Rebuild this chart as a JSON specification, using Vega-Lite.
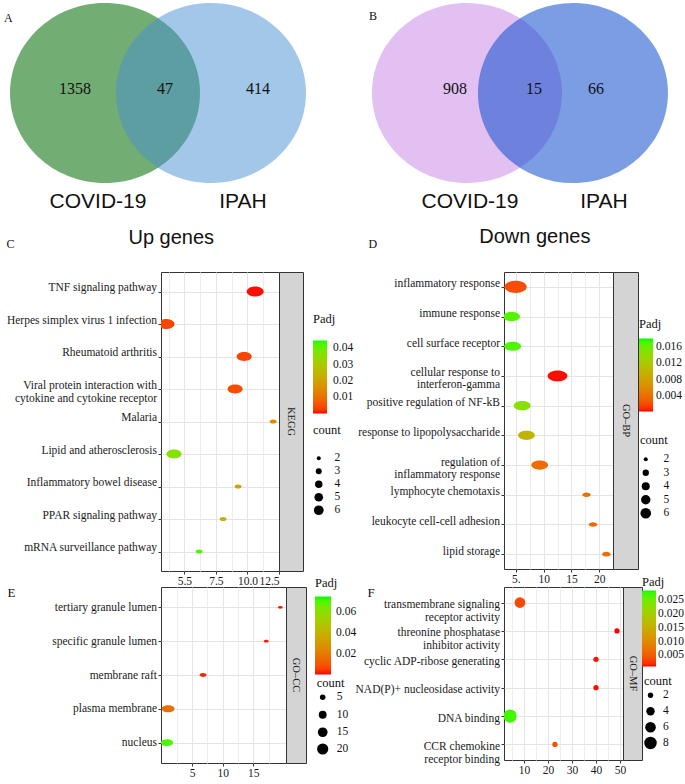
{
"$schema": "https://vega.github.io/schema/vega-lite/v6.json",
"background": "white",
"padding": {"left": 4, "top": 0, "right": 0, "bottom": 0},
"columns": 1,
"align": "none",
"spacing": -12,
"config": {
 "font": "Liberation Serif",
 "view": {"stroke": "#333333", "strokeWidth": 1},
 "axis": {"labelFont": "Liberation Serif", "labelFontSize": 11.5, "labelColor": "#1a1a1a", "tickColor": "#333333", "tickSize": 3, "labelPadding": 1.5, "domain": false, "gridColor": "#e4e4e4", "gridWidth": 1, "titleFont": "Liberation Serif", "titleFontWeight": "normal", "titleColor": "#111111"},
 "legend": {"titleFont": "Liberation Serif", "titleFontSize": 12.5, "titleFontWeight": "normal", "titleColor": "#111111", "labelFont": "Liberation Serif", "labelFontSize": 11.5, "labelColor": "#111111", "gradientStrokeWidth": 0, "symbolStrokeWidth": 0},
 "title": {"font": "Liberation Sans", "fontWeight": "normal", "color": "#111111"}
},
"resolve": {"scale": {"x": "independent", "y": "independent", "color": "independent", "size": "independent", "opacity": "independent"}},
"concat": [
 {
  "hconcat": [
   {
    "width": 173, "height": 238,
    "view": {"stroke": null},
    "title": {"text": "A", "anchor": "start", "frame": "group", "font": "Liberation Serif", "fontSize": 12, "fontWeight": "normal", "offset": 0, "baseline": "bottom", "dx": -157, "dy": 37},
    "layer": [
     {
      "data": {"values": [{"set": "COVID-19", "cx": -0.57, "cy": 0}, {"set": "IPAH", "cx": 0.57, "cy": 0}]},
      "mark": {"type": "point", "filled": true, "shape": "M-1.0556,0A1.0556,1 0 1,1 1.0556,0A1.0556,1 0 1,1 -1.0556,0Z", "size": 32400, "strokeWidth": 0},
      "encoding": {
       "x": {"field": "cx", "type": "quantitative", "scale": {"domain": [0.0323, 1.893], "nice": false, "zero": false}, "axis": null},
       "y": {"field": "cy", "type": "quantitative", "scale": {"domain": [-1.56, 1.0], "nice": false, "zero": false}, "axis": null},
       "color": {"field": "set", "type": "nominal", "scale": {"domain": ["COVID-19", "IPAH"], "range": ["#72ad74", "#478fd1"]}, "legend": null},
       "opacity": {"field": "set", "type": "nominal", "scale": {"domain": ["COVID-19", "IPAH"], "range": [1, 0.5]}, "legend": null}
      }
     },
     {
      "data": {"values": [{"label": "1358", "tx": -0.892, "ty": 0.043}, {"label": "47", "tx": 0.076, "ty": 0.043}, {"label": "414", "tx": 1.076, "ty": 0.043}]},
      "mark": {"type": "text", "font": "Liberation Serif", "fontSize": 16, "color": "#111111"},
      "encoding": {
       "x": {"field": "tx", "type": "quantitative", "scale": {"domain": [0.0323, 1.893], "nice": false, "zero": false}, "axis": null},
       "y": {"field": "ty", "type": "quantitative", "scale": {"domain": [-1.56, 1.0], "nice": false, "zero": false}, "axis": null},
       "text": {"field": "label"}
      }
     },
     {
      "data": {"values": [{"label": "COVID-19", "tx": -0.645, "ty": -1.172}, {"label": "IPAH", "tx": 0.914, "ty": -1.172}]},
      "mark": {"type": "text", "font": "Liberation Sans", "fontSize": 21, "color": "#111111"},
      "encoding": {
       "x": {"field": "tx", "type": "quantitative", "scale": {"domain": [0.0323, 1.893], "nice": false, "zero": false}, "axis": null},
       "y": {"field": "ty", "type": "quantitative", "scale": {"domain": [-1.56, 1.0], "nice": false, "zero": false}, "axis": null},
       "text": {"field": "label"}
      }
     }
    ]
   },
   {
    "width": 340, "height": 238,
    "view": {"stroke": null},
    "title": {"text": "B", "anchor": "start", "frame": "group", "font": "Liberation Serif", "fontSize": 12, "fontWeight": "normal", "offset": 0, "baseline": "bottom", "dx": 27, "dy": 35},
    "layer": [
     {
      "data": {"values": [{"set": "COVID-19", "cx": -0.57, "cy": 0}, {"set": "IPAH", "cx": 0.57, "cy": 0}]},
      "mark": {"type": "point", "filled": true, "shape": "M-1.0556,0A1.0556,1 0 1,1 1.0556,0A1.0556,1 0 1,1 -1.0556,0Z", "size": 32400, "strokeWidth": 0},
      "encoding": {
       "x": {"field": "cx", "type": "quantitative", "scale": {"domain": [-1.914, 1.743], "nice": false, "zero": false}, "axis": null},
       "y": {"field": "cy", "type": "quantitative", "scale": {"domain": [-1.56, 1.0], "nice": false, "zero": false}, "axis": null},
       "color": {"field": "set", "type": "nominal", "scale": {"domain": ["COVID-19", "IPAH"], "range": ["#e2c0f2", "#0d4dcc"]}, "legend": null},
       "opacity": {"field": "set", "type": "nominal", "scale": {"domain": ["COVID-19", "IPAH"], "range": [1, 0.55]}, "legend": null}
      }
     },
     {
      "data": {"values": [{"label": "908", "tx": -0.699, "ty": 0.043}, {"label": "15", "tx": 0.151, "ty": 0.043}, {"label": "66", "tx": 0.818, "ty": 0.043}]},
      "mark": {"type": "text", "font": "Liberation Serif", "fontSize": 16, "color": "#111111"},
      "encoding": {
       "x": {"field": "tx", "type": "quantitative", "scale": {"domain": [-1.914, 1.743], "nice": false, "zero": false}, "axis": null},
       "y": {"field": "ty", "type": "quantitative", "scale": {"domain": [-1.56, 1.0], "nice": false, "zero": false}, "axis": null},
       "text": {"field": "label"}
      }
     },
     {
      "data": {"values": [{"label": "COVID-19", "tx": -0.537, "ty": -1.172}, {"label": "IPAH", "tx": 0.904, "ty": -1.172}]},
      "mark": {"type": "text", "font": "Liberation Sans", "fontSize": 21, "color": "#111111"},
      "encoding": {
       "x": {"field": "tx", "type": "quantitative", "scale": {"domain": [-1.914, 1.743], "nice": false, "zero": false}, "axis": null},
       "y": {"field": "ty", "type": "quantitative", "scale": {"domain": [-1.56, 1.0], "nice": false, "zero": false}, "axis": null},
       "text": {"field": "label"}
      }
     }
    ]
   }
  ],
  "spacing": 8,
  "resolve": {"scale": {"x": "independent", "y": "independent", "color": "independent", "opacity": "independent"}}
 },
 {
  "hconcat": [
   {
    "hconcat": [
     {
      "width": 118, "height": 299,
      "title": {"text": "Up  genes", "anchor": "middle", "frame": "bounds", "dx": 28.5, "offset": -31, "baseline": "bottom", "font": "Liberation Sans", "fontSize": 20, "fontWeight": "normal"},
      "data": {"values": [
       {"term": "TNF signaling pathway", "ratio": 10.61, "padj": 0.0005, "count": 6},
       {"term": "Herpes simplex virus 1 infection", "ratio": 3.55, "padj": 0.004, "count": 6},
       {"term": "Rheumatoid arthritis", "ratio": 9.74, "padj": 0.004, "count": 5},
       {"term": "Viral protein interaction with\ncytokine and cytokine receptor", "ratio": 9.02, "padj": 0.005, "count": 5},
       {"term": "Malaria", "ratio": 12.04, "padj": 0.0135, "count": 2},
       {"term": "Lipid and atherosclerosis", "ratio": 4.18, "padj": 0.036, "count": 5},
       {"term": "Inflammatory bowel disease", "ratio": 9.26, "padj": 0.02, "count": 2},
       {"term": "PPAR signaling pathway", "ratio": 8.07, "padj": 0.0245, "count": 2},
       {"term": "mRNA surveillance pathway", "ratio": 6.17, "padj": 0.042, "count": 2}
      ]},
      "layer": [
       {
        "mark": {"type": "point", "filled": true, "opacity": 1, "clip": true, "strokeWidth": 0, "shape": "M-1.74,0A1.74,1.03 0 1,1 1.74,0A1.74,1.03 0 1,1 -1.74,0Z"},
        "encoding": {
         "x": {"field": "ratio", "type": "quantitative", "scale": {"domain": [3.15, 12.5], "nice": false, "zero": false}, "axis": {"orient": "bottom", "values": [5, 7.5, 10, 12.5], "labelExpr": "datum.value == 5 ? '5.5' : format(datum.value, '.1f')", "title": null, "grid": true, "minExtent": 0}},
         "y": {"field": "term", "type": "nominal", "sort": null, "scale": {"padding": 0.6}, "axis": {"title": "C", "titleAngle": 0, "titleAlign": "left", "titleBaseline": "middle", "titleX": -155, "titleY": -29, "titleFontSize": 12, "labelExpr": "split(datum.label, '\\n')", "labelLineHeight": 13, "labelOffset": -4, "grid": true}},
         "color": {"field": "padj", "type": "quantitative", "scale": {"domain": [0.0002, 0.0446], "range": ["#ff0000", "#00ff00"], "interpolate": "lab"}, "legend": {"title": "Padj", "orient": "none", "legendX": 152, "legendY": 41, "direction": "vertical", "values": [0.01, 0.02, 0.03, 0.04], "format": ".2f", "gradientLength": 73, "gradientThickness": 14, "titlePadding": 15, "labelOffset": 6}},
         "size": {"field": "count", "type": "quantitative", "scale": {"domain": [2, 6], "range": [16, 95], "zero": false}, "legend": {"title": "count", "orient": "none", "legendX": 152, "legendY": 152, "direction": "vertical", "values": [2, 3, 4, 5, 6], "symbolType": "circle", "symbolFillColor": "#000000", "symbolOpacity": 1, "titlePadding": 16, "labelOffset": 10, "rowPadding": 0}}
        }
       },
       {
        "mark": {"type": "point", "opacity": 0},
        "encoding": {
         "x": {"field": "ratio", "type": "quantitative", "scale": {"domain": [3.15, 12.5], "nice": false, "zero": false}, "axis": {"orient": "top", "values": [3.75, 6.25, 8.75, 11.25], "labels": false, "ticks": false, "domain": false, "grid": true, "gridColor": "#ececec", "title": null, "minExtent": 0, "maxExtent": 0}}
        }
       }
      ]
     },
     {
      "width": 24, "height": 299,
      "view": {"fill": "#d4d4d4", "stroke": "#333333"},
      "data": {"values": [{"db": "KEGG"}]},
      "mark": {"type": "text", "angle": 90, "font": "Liberation Serif", "fontSize": 10.5, "color": "#1a1a1a", "align": "center", "baseline": "middle"},
      "encoding": {"text": {"field": "db"}}
     }
    ],
    "spacing": 0,
    "bounds": "flush",
    "resolve": {"scale": {"color": "shared", "size": "shared", "x": "independent", "y": "independent"}, "legend": {"color": "shared", "size": "shared"}}
   },
   {
    "hconcat": [
     {
      "width": 109, "height": 297,
      "title": {"text": "Down genes", "anchor": "middle", "frame": "bounds", "dx": 49.5, "offset": -30, "baseline": "bottom", "font": "Liberation Sans", "fontSize": 20, "fontWeight": "normal"},
      "data": {"values": [
       {"term": "inflammatory response", "ratio": 4.95, "padj": 0.0022, "count": 6},
       {"term": "immune response", "ratio": 4.23, "padj": 0.0168, "count": 4},
       {"term": "cell surface receptor", "ratio": 4.41, "padj": 0.017, "count": 4},
       {"term": "cellular response to\ninterferon-gamma", "ratio": 12.5, "padj": 0.0004, "count": 5},
       {"term": "positive regulation of NF-kB", "ratio": 6.13, "padj": 0.0145, "count": 4},
       {"term": "response to lipopolysaccharide", "ratio": 6.91, "padj": 0.01, "count": 4},
       {"term": "regulation of\ninflammatory response", "ratio": 9.29, "padj": 0.004, "count": 4},
       {"term": "lymphocyte chemotaxis", "ratio": 17.73, "padj": 0.0042, "count": 2},
       {"term": "leukocyte cell-cell adhesion", "ratio": 18.9, "padj": 0.0038, "count": 2},
       {"term": "lipid storage", "ratio": 21.3, "padj": 0.004, "count": 2}
      ]},
      "layer": [
       {
        "mark": {"type": "point", "filled": true, "opacity": 1, "clip": true, "strokeWidth": 0, "shape": "M-2.1,0A2.1,1.15 0 1,1 2.1,0A2.1,1.15 0 1,1 -2.1,0Z"},
        "encoding": {
         "x": {"field": "ratio", "type": "quantitative", "scale": {"domain": [2.86, 22.5], "nice": false, "zero": false}, "axis": {"orient": "bottom", "values": [5, 10, 15, 20], "labelExpr": "datum.value == 5 ? '5.' : datum.label", "title": null, "grid": true, "minExtent": 0}},
         "y": {"field": "term", "type": "nominal", "sort": null, "scale": {"padding": 0.5}, "axis": {"title": "D", "titleAngle": 0, "titleAlign": "left", "titleBaseline": "middle", "titleX": -136, "titleY": -29, "titleFontSize": 12, "labelExpr": "split(datum.label, '\\n')", "labelLineHeight": 12, "labelOffset": -3, "grid": true}},
         "color": {"field": "padj", "type": "quantitative", "scale": {"domain": [0.0003, 0.018], "range": ["#ff0000", "#00ff00"], "interpolate": "lab"}, "legend": {"title": "Padj", "orient": "none", "legendX": 135, "legendY": 46, "direction": "vertical", "values": [0.004, 0.008, 0.012, 0.016], "format": ".3f", "gradientLength": 73, "gradientThickness": 14, "titlePadding": 8, "labelOffset": 3}},
         "size": {"field": "count", "type": "quantitative", "scale": {"domain": [2, 6], "range": [16, 113], "zero": false}, "legend": {"title": "count", "orient": "none", "legendX": 136, "legendY": 162, "direction": "vertical", "values": [2, 3, 4, 5, 6], "symbolType": "circle", "symbolFillColor": "#000000", "symbolOpacity": 1, "titlePadding": 7, "labelOffset": 12, "rowPadding": 0.5}}
        }
       },
       {
        "mark": {"type": "point", "opacity": 0},
        "encoding": {
         "x": {"field": "ratio", "type": "quantitative", "scale": {"domain": [2.86, 22.5], "nice": false, "zero": false}, "axis": {"orient": "top", "values": [7.5, 12.5, 17.5], "labels": false, "ticks": false, "domain": false, "grid": true, "gridColor": "#ececec", "title": null, "minExtent": 0, "maxExtent": 0}}
        }
       }
      ]
     },
     {
      "width": 25, "height": 297,
      "view": {"fill": "#d4d4d4", "stroke": "#333333"},
      "data": {"values": [{"db": "GO–BP"}]},
      "mark": {"type": "text", "angle": 90, "font": "Liberation Serif", "fontSize": 10.5, "color": "#1a1a1a", "align": "center", "baseline": "middle"},
      "encoding": {"text": {"field": "db"}}
     }
    ],
    "spacing": 0,
    "bounds": "flush",
    "resolve": {"scale": {"color": "shared", "size": "shared", "x": "independent", "y": "independent"}, "legend": {"color": "shared", "size": "shared"}}
   }
  ],
  "spacing": 3,
  "resolve": {"scale": {"x": "independent", "y": "independent", "color": "independent", "size": "independent"}}
 },
 {
  "hconcat": [
   {
    "hconcat": [
     {
      "width": 125, "height": 176,
      "data": {"values": [
       {"term": "tertiary granule lumen", "ratio": 19.4, "padj": 0.001, "count": 3},
       {"term": "specific granule lumen", "ratio": 17.1, "padj": 0.0012, "count": 3},
       {"term": "membrane raft", "ratio": 6.8, "padj": 0.002, "count": 6},
       {"term": "plasma membrane", "ratio": 1.1, "padj": 0.016, "count": 20},
       {"term": "nucleus", "ratio": 0.9, "padj": 0.071, "count": 18}
      ]},
      "layer": [
       {
        "mark": {"type": "point", "filled": true, "opacity": 1, "clip": true, "strokeWidth": 0, "shape": "M-1.16,0A1.16,0.63 0 1,1 1.16,0A1.16,0.63 0 1,1 -1.16,0Z"},
        "encoding": {
         "x": {"field": "ratio", "type": "quantitative", "scale": {"domain": [-0.06, 20.33], "nice": false, "zero": false}, "axis": {"orient": "bottom", "values": [5, 10, 15], "title": null, "grid": true, "minExtent": 0}},
         "y": {"field": "term", "type": "nominal", "sort": null, "scale": {"padding": 0.6}, "axis": {"title": "E", "titleAngle": 0, "titleAlign": "left", "titleBaseline": "middle", "titleX": -154, "titleY": 5, "titleFontSize": 13, "labelOffset": 0, "grid": true}},
         "color": {"field": "padj", "type": "quantitative", "scale": {"domain": [0.0001, 0.0746], "range": ["#ff0000", "#00ff00"], "interpolate": "lab"}, "legend": {"title": "Padj", "orient": "none", "legendX": 154, "legendY": -10, "direction": "vertical", "values": [0.02, 0.04, 0.06], "format": ".2f", "gradientLength": 78, "gradientThickness": 16, "titlePadding": 7, "labelOffset": 5}},
         "size": {"field": "count", "type": "quantitative", "scale": {"domain": [2, 20], "range": [12, 125], "zero": false}, "legend": {"title": "count", "orient": "none", "legendX": 155.7, "legendY": 90, "direction": "vertical", "values": [5, 10, 15, 20], "symbolType": "circle", "symbolFillColor": "#000000", "symbolOpacity": 1, "titlePadding": 2, "labelOffset": 8, "rowPadding": 4.5}}
        }
       },
       {
        "mark": {"type": "point", "opacity": 0},
        "encoding": {
         "x": {"field": "ratio", "type": "quantitative", "scale": {"domain": [-0.06, 20.33], "nice": false, "zero": false}, "axis": {"orient": "top", "values": [2.5, 7.5, 12.5, 17.5], "labels": false, "ticks": false, "domain": false, "grid": true, "gridColor": "#ececec", "title": null, "minExtent": 0, "maxExtent": 0}}
        }
       }
      ]
     },
     {
      "width": 20, "height": 176,
      "view": {"fill": "#d4d4d4", "stroke": "#333333"},
      "data": {"values": [{"db": "GO–CC"}]},
      "mark": {"type": "text", "angle": 90, "font": "Liberation Serif", "fontSize": 10.5, "color": "#1a1a1a", "align": "center", "baseline": "middle"},
      "encoding": {"text": {"field": "db"}}
     }
    ],
    "spacing": 0,
    "bounds": "flush",
    "resolve": {"scale": {"color": "shared", "size": "shared", "x": "independent", "y": "independent"}, "legend": {"color": "shared", "size": "shared"}}
   },
   {
    "hconcat": [
     {
      "width": 119, "height": 173,
      "data": {"values": [
       {"term": "transmembrane signaling\nreceptor activity", "ratio": 8.3, "padj": 0.0038, "count": 6},
       {"term": "threonine phosphatase\ninhibitor activity", "ratio": 48.75, "padj": 0.001, "count": 2},
       {"term": "cyclic ADP-ribose generating", "ratio": 40, "padj": 0.0012, "count": 2},
       {"term": "NAD(P)+ nucleosidase activity", "ratio": 40, "padj": 0.0012, "count": 2},
       {"term": "DNA binding", "ratio": 4.2, "padj": 0.0275, "count": 9},
       {"term": "CCR chemokine\nreceptor binding", "ratio": 22.9, "padj": 0.0043, "count": 2}
      ]},
      "layer": [
       {
        "mark": {"type": "point", "filled": true, "opacity": 1, "clip": true, "strokeWidth": 0, "shape": "circle"},
        "encoding": {
         "x": {"field": "ratio", "type": "quantitative", "scale": {"domain": [1.67, 51.25], "nice": false, "zero": false}, "axis": {"orient": "bottom", "values": [10, 20, 30, 40, 50], "title": null, "grid": true, "minExtent": 0}},
         "y": {"field": "term", "type": "nominal", "sort": null, "scale": {"padding": 0.55}, "axis": {"title": "F", "titleAngle": 0, "titleAlign": "left", "titleBaseline": "middle", "titleX": -137, "titleY": 5, "titleFontSize": 13, "labelExpr": "split(datum.label, '\\n')", "labelLineHeight": 13, "labelOffset": 2, "grid": true}},
         "color": {"field": "padj", "type": "quantitative", "scale": {"domain": [0.001, 0.0286], "range": ["#ff0000", "#00ff00"], "interpolate": "lab"}, "legend": {"title": "Padj", "orient": "none", "legendX": 138, "legendY": -11, "direction": "vertical", "values": [0.005, 0.01, 0.015, 0.02, 0.025], "format": ".3f", "gradientLength": 76, "gradientThickness": 14, "titlePadding": 2, "labelOffset": 2}},
         "size": {"field": "count", "type": "quantitative", "scale": {"domain": [2, 9], "range": [28, 177], "zero": false}, "legend": {"title": "count", "orient": "none", "legendX": 140, "legendY": 88, "direction": "vertical", "values": [2, 4, 6, 8], "symbolType": "circle", "symbolFillColor": "#000000", "symbolOpacity": 1, "titlePadding": 2, "labelOffset": 6, "rowPadding": 3}}
        }
       },
       {
        "mark": {"type": "point", "opacity": 0},
        "encoding": {
         "x": {"field": "ratio", "type": "quantitative", "scale": {"domain": [1.67, 51.25], "nice": false, "zero": false}, "axis": {"orient": "top", "values": [5, 15, 25, 35, 45], "labels": false, "ticks": false, "domain": false, "grid": true, "gridColor": "#ececec", "title": null, "minExtent": 0, "maxExtent": 0}}
        }
       }
      ]
     },
     {
      "width": 19, "height": 173,
      "view": {"fill": "#d4d4d4", "stroke": "#333333"},
      "data": {"values": [{"db": "GO–MF"}]},
      "mark": {"type": "text", "angle": 90, "font": "Liberation Serif", "fontSize": 10.5, "color": "#1a1a1a", "align": "center", "baseline": "middle"},
      "encoding": {"text": {"field": "db"}}
     }
    ],
    "spacing": 0,
    "bounds": "flush",
    "resolve": {"scale": {"color": "shared", "size": "shared", "x": "independent", "y": "independent"}, "legend": {"color": "shared", "size": "shared"}}
   }
  ],
  "spacing": -3,
  "resolve": {"scale": {"x": "independent", "y": "independent", "color": "independent", "size": "independent"}}
 }
]
}
